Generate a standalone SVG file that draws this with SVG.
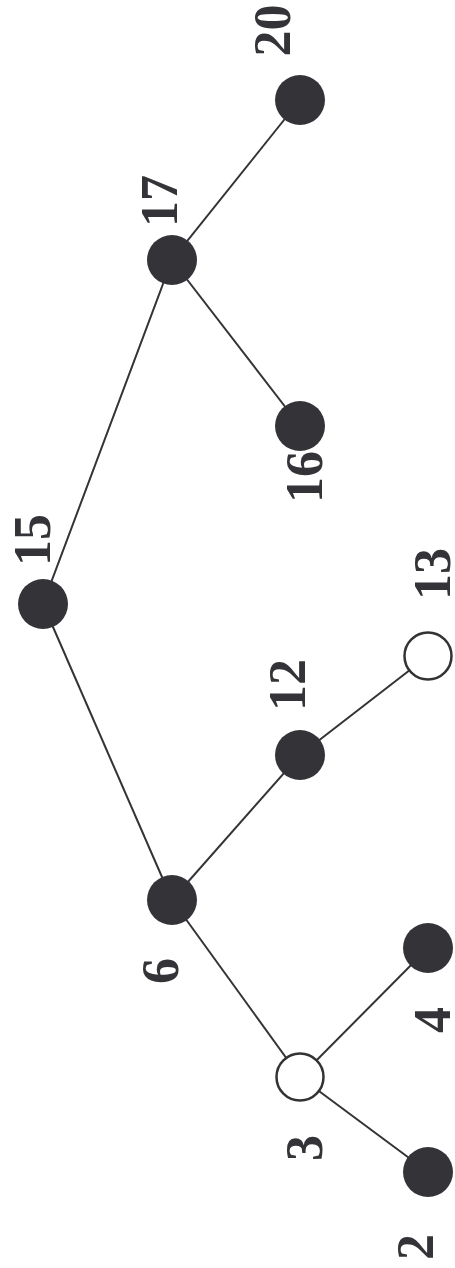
<svg xmlns="http://www.w3.org/2000/svg" width="455" height="1268" viewBox="0 0 455 1268">
<style>
.e{stroke:#333336;stroke-width:2;fill:none}
.f{fill:#343337}
.o{fill:#fff;stroke:#333336;stroke-width:2.5}
.t{font-family:"Liberation Serif","Times New Roman",serif;font-weight:bold;font-size:52px;fill:#343337;text-anchor:middle}
</style>
<rect width="455" height="1268" fill="#fff"/>
<g id="connectors">
<line class="e" x1="300" y1="100" x2="172" y2="260"/>
<line class="e" x1="172" y1="260" x2="300" y2="426"/>
<line class="e" x1="172" y1="260" x2="43" y2="604"/>
<line class="e" x1="43" y1="604" x2="172" y2="900"/>
<line class="e" x1="172" y1="900" x2="300" y2="755"/>
<line class="e" x1="300" y1="755" x2="428" y2="656"/>
<line class="e" x1="172" y1="900" x2="300" y2="1077"/>
<line class="e" x1="300" y1="1077" x2="428" y2="948"/>
<line class="e" x1="300" y1="1077" x2="428" y2="1172"/>
</g>
<g id="n20"><circle class="f" cx="300" cy="100" r="25"/><text class="t" transform="translate(290,30.5) rotate(-90)">20</text></g>
<g id="n17"><circle class="f" cx="172" cy="260" r="25"/><text class="t" transform="translate(177,201) rotate(-90)">17</text></g>
<g id="n16"><circle class="f" cx="300" cy="426" r="25"/><text class="t" transform="translate(322,477) rotate(-90)">16</text></g>
<g id="n15"><circle class="f" cx="43" cy="604" r="25"/><text class="t" transform="translate(50,540) rotate(-90)">15</text></g>
<g id="n13"><circle class="o" cx="428" cy="656" r="23.5"/><text class="t" transform="translate(450,574) rotate(-90)">13</text></g>
<g id="n12"><circle class="f" cx="300" cy="755" r="25"/><text class="t" transform="translate(305,685) rotate(-90)">12</text></g>
<g id="n6"><circle class="f" cx="172" cy="900" r="25"/><text class="t" transform="translate(178,971) rotate(-90)">6</text></g>
<g id="n4"><circle class="f" cx="428" cy="948" r="25"/><text class="t" transform="translate(450,1020) rotate(-90)">4</text></g>
<g id="n3"><circle class="o" cx="300" cy="1077" r="23.5"/><text class="t" transform="translate(322,1148) rotate(-90)">3</text></g>
<g id="n2"><circle class="f" cx="428" cy="1172" r="25"/><text class="t" transform="translate(433,1247) rotate(-90)">2</text></g>
</svg>
